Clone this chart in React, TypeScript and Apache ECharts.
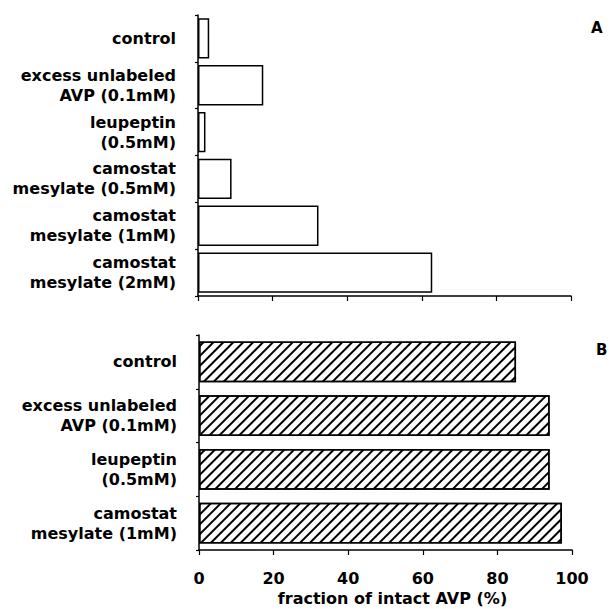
import React, { useEffect, useRef } from "react";
import * as echarts from "echarts";

const topCategories = [
  "control",
  "excess unlabeled\nAVP (0.1mM)",
  "leupeptin\n(0.5mM)",
  "camostat\nmesylate (0.5mM)",
  "camostat\nmesylate (1mM)",
  "camostat\nmesylate (2mM)",
];
const topValues = [3, 17.5, 2, 9, 32.3, 62.8];

const bottomCategories = [
  "control",
  "excess unlabeled\nAVP (0.1mM)",
  "leupeptin\n(0.5mM)",
  "camostat\nmesylate (1mM)",
];
const bottomValues = [85, 94, 94, 97.3];

const xTicks = { min: 0, max: 100, interval: 20 };
const xTitle = "fraction of intact AVP (%)";
const panelLabels = ["A", "B"];

const FONT = "DejaVu Sans";

export default function App() {
  const ref = useRef<HTMLDivElement>(null);
  useEffect(() => {
    if (!ref.current) return;
    const chart = echarts.init(ref.current, undefined, { renderer: "svg" });
    const axisLine = { show: true, lineStyle: { color: "#000", width: 1.5 } };
    const catAxis = (idx: number, data: string[]) => ({
      type: "category",
      gridIndex: idx,
      data,
      inverse: true,
      axisLine,
      axisTick: { show: true, length: 3, lineStyle: { color: "#000", width: 1.2 } },
      axisLabel: {
        interval: 0,
        color: "#000",
        fontFamily: FONT,
        fontWeight: "bold",
        fontSize: 16,
        lineHeight: 20,
        margin: 22,
        align: "right",
      },
    });
    const valAxis = (idx: number, labels: boolean) => ({
      type: "value",
      gridIndex: idx,
      min: xTicks.min,
      max: xTicks.max,
      interval: xTicks.interval,
      axisLine,
      axisTick: { show: true, length: 5, lineStyle: { color: "#000", width: 1.2 } },
      splitLine: { show: false },
      axisLabel: labels
        ? { color: "#000", fontFamily: FONT, fontWeight: "bold", fontSize: 16, margin: 20 }
        : { show: false },
      name: labels ? xTitle : "",
      nameLocation: "middle",
      nameGap: 40,
      nameTextStyle: {
        color: "#000",
        fontFamily: FONT,
        fontWeight: "bold",
        fontSize: 16,
        padding: [0, 0, 0, 14],
      },
    });
    chart.setOption({
      animation: false,
      backgroundColor: "#fff",
      grid: [
        { left: 198, top: 15, width: 373, height: 281 },
        { left: 199, top: 335, width: 373, height: 215 },
      ],
      xAxis: [valAxis(0, false), valAxis(1, true)],
      yAxis: [catAxis(0, topCategories), catAxis(1, bottomCategories)],
      series: [
        {
          type: "bar",
          xAxisIndex: 0,
          yAxisIndex: 0,
          data: topValues,
          barCategoryGap: "14%",
          itemStyle: { color: "#fff", borderColor: "#000", borderWidth: 1.5 },
        },
        {
          type: "bar",
          xAxisIndex: 1,
          yAxisIndex: 1,
          data: bottomValues,
          barCategoryGap: "24%",
          itemStyle: {
            color: "#fff",
            borderColor: "#000",
            borderWidth: 1.5,
            decal: {
              symbol: "rect",
              symbolSize: 1,
              dashArrayX: [1, 0],
              dashArrayY: [1.1, 4.4],
              rotation: -Math.PI / 4,
              color: "#000",
              backgroundColor: "#fff",
            },
          },
        },
      ],
      graphic: [
        {
          type: "text",
          left: 591,
          top: 20,
          style: { text: panelLabels[0], fill: "#000", font: `bold 15px "${FONT}"` },
        },
        {
          type: "text",
          left: 596,
          top: 342,
          style: { text: panelLabels[1], fill: "#000", font: `bold 15px "${FONT}"` },
        },
      ],
    });
    return () => chart.dispose();
  }, []);
  return (
    <div
      ref={ref}
      style={{ position: "fixed", left: 0, top: 0, width: 611, height: 609 }}
    />
  );
}
